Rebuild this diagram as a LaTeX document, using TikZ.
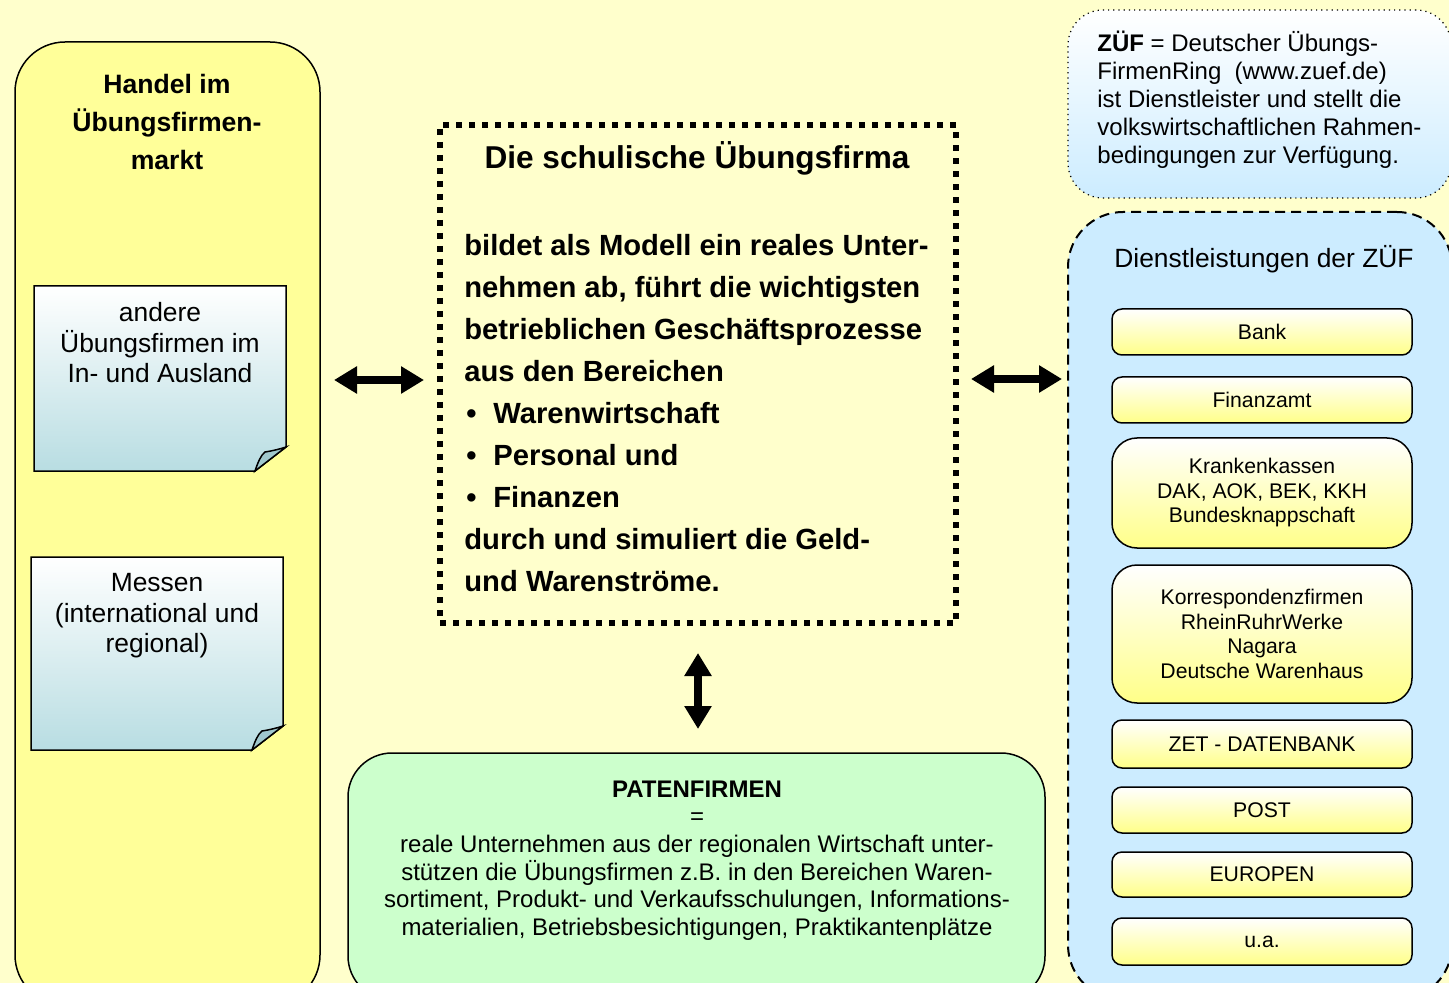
\documentclass[tikz,border=0pt]{standalone}
\usepackage{fontspec}
\setmainfont{Liberation Sans}
\usetikzlibrary{arrows.meta}
\definecolor{bg}{HTML}{FFFFCC}
\definecolor{lefty}{HTML}{FFFF99}
\definecolor{greenf}{HTML}{CCFFCC}
\definecolor{bluef}{HTML}{CCECFF}
\definecolor{notec}{RGB}{184,221,226}
\definecolor{foldc}{RGB}{160,200,205}
\definecolor{servy}{HTML}{FFFF88}
\newcommand\fsz[2]{\fontsize{#1}{#2}\selectfont}
\begin{document}
\begin{tikzpicture}[x=0.5pt,y=-0.5pt,
  dbl/.style={line width=3.75pt,{Triangle[length=11.5pt,width=13pt]}-{Triangle[length=11.5pt,width=13pt]}},
  serv/.style={draw, line width=0.75pt, rounded corners=5pt, top color=white, bottom color=servy,
     minimum width=150pt, align=center, font=\fsz{10.6}{12.25}, inner sep=0pt},
  servtall/.style={serv, rounded corners=12.5pt},
  notebox/.style={draw, line width=0.75pt, top color=white, bottom color=notec},
  fold/.style={draw, line width=0.75pt, fill=foldc},
  txt/.style={inner sep=0pt, align=center}
]
\useasboundingbox (0,0) rectangle (1449,983);
\clip (0,0) rectangle (1449,983);
\fill[bg] (0,0) rectangle (1449,983);

% left market box
\node[draw, line width=0.75pt, fill=lefty, rounded corners=25pt, minimum width=152.5pt, minimum height=481.5pt, inner sep=0pt] (market) at (167.5,523.5) {};
\node[txt, font=\bfseries\fsz{13.3}{19}] (markettitle) at (167,122) {Handel im\\Übungsfirmen-\\markt};

% note 1
\path[notebox] (34,286) -- (286,286) -- (286,447) -- (255,471) -- (34,471) -- cycle;
\path[fold] (255,471) .. controls (258,462) and (261,455) .. (265,452) .. controls (272,451) and (280,449) .. (286,447) -- cycle;
\node[txt, font=\fsz{13.2}{15.25}] (note1) at (160,343) {andere\\Übungsfirmen im\\In- und Ausland};

% note 2
\path[notebox] (31,557) -- (283,557) -- (283,726) -- (252,750) -- (31,750) -- cycle;
\path[fold] (252,750) .. controls (255,741) and (258,734) .. (262,731) .. controls (269,730) and (277,728) .. (283,726) -- cycle;
\node[txt, font=\fsz{13.2}{15.25}] (note2) at (157,616) {Messen\\(international und\\regional)};

% center box
\node[draw, line width=3pt, dash pattern=on 3pt off 3.5pt, minimum width=258pt, minimum height=249pt, inner sep=0pt] (center) at (698,374) {};
\node[txt, font=\bfseries\fsz{15.8}{21}] (centertitle) at (697,158) {Die schulische Übungsfirma};
\node[inner sep=0pt, align=left, anchor=west, font=\bfseries\fsz{14.6}{21}] (centerbody) at (464,413)
 {bildet als Modell ein reales Unter-\\
  nehmen ab, führt die wichtigsten\\
  betrieblichen Geschäftsprozesse\\
  aus den Bereichen\\
  \makebox[14.5pt][l]{\hspace{1pt}\textbullet}Warenwirtschaft\\
  \makebox[14.5pt][l]{\hspace{1pt}\textbullet}Personal und\\
  \makebox[14.5pt][l]{\hspace{1pt}\textbullet}Finanzen\\
  durch und simuliert die Geld-\\
  und Warenströme.};

% arrows
\coordinate (la1) at (334,380);
\coordinate (la2) at (424,380);
\coordinate (ra1) at (971,379);
\coordinate (ra2) at (1062,379);
\coordinate (va1) at (698,653);
\coordinate (va2) at (698,729);
\draw[dbl] (la1) -- (la2);
\draw[dbl] (ra1) -- (ra2);
\draw[dbl] (va1) -- (va2);

% Patenfirmen
\node[draw, line width=0.75pt, fill=greenf, rounded corners=22pt, minimum width=348.5pt, minimum height=123.5pt, inner sep=0pt] (paten) at (696.5,876.5) {};
\node[txt, font=\fsz{12}{13.8}] (patentext) at (697,860.5)
 {\textbf{PATENFIRMEN}\\=\\reale Unternehmen aus der regionalen Wirtschaft unter-\\
  stützen die Übungsfirmen z.B. in den Bereichen Waren-\\
  sortiment, Produkt- und Verkaufsschulungen, Informations-\\
  materialien, Betriebsbesichtigungen, Praktikantenplätze};

% ZUEF info box
\node[draw, line width=0.6pt, dotted, top color=white, bottom color=bluef, rounded corners=17.5pt, minimum width=191.5pt, minimum height=94pt, inner sep=0pt] (zuef) at (1259.5,104) {};
\node[inner sep=0pt, align=left, anchor=west, font=\fsz{12}{14}] (zueftext) at (1097,100)
 {\textbf{ZÜF} = Deutscher Übungs-\\FirmenRing~ (www.zuef.de)\\ist Dienstleister und stellt die\\volkswirtschaftlichen Rahmen-\\bedingungen zur Verfügung.};

% services box
\node[draw, line width=1pt, dash pattern=on 5pt off 3pt, fill=bluef, rounded corners=27.5pt, minimum width=192pt, minimum height=394pt, inner sep=0pt] (services) at (1260,606) {};
\node[txt, font=\fsz{13.2}{15}] (servtitle) at (1264,259) {Dienstleistungen der ZÜF};

\node[serv, minimum height=23pt] (bank) at (1262,332) {Bank};
\node[serv, minimum height=23pt] (finanz) at (1262,400) {Finanzamt};
\node[servtall, minimum height=55pt] (kranken) at (1262,493) {Krankenkassen\\DAK, AOK, BEK, KKH\\Bundesknappschaft};
\node[servtall, minimum height=69pt] (korr) at (1262,634) {Korrespondenzfirmen\\RheinRuhrWerke\\Nagara\\Deutsche Warenhaus};
\node[serv, minimum height=24pt] (zet) at (1262,744) {ZET - DATENBANK};
\node[serv, minimum height=23pt] (post) at (1262,810) {POST};
\node[serv, minimum height=22.5pt] (europen) at (1262,874.5) {EUROPEN};
\node[serv, minimum height=23.5pt] (ua) at (1262,941.5) {u.a.};
\end{tikzpicture}
\end{document}
